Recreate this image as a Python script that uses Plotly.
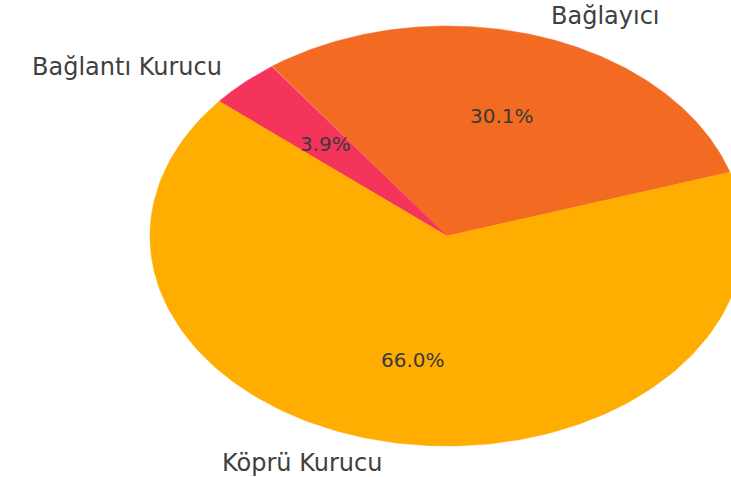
import numpy as np
import plotly.graph_objects as go

labels = ["Bağlayıcı", "Bağlantı Kurucu", "Köprü Kurucu"]
values = [30.1, 3.9, 66.0]
colors = ["#F36A22", "#F5345C", "#FFAD00"]

start_angle = 17.7
label_dist = 1.1
pct_dist = 0.6

W, H = 731, 477
cx, cy, rx, ry = 447, 236, 297, 210  # pixel placement of the pie ellipse

fig = go.Figure()
total = sum(values)
theta = start_angle
for lab, val, col in zip(labels, values, colors):
    span = 360.0 * val / total
    t = np.radians(np.linspace(theta, theta + span, 200))
    xs = np.concatenate([[0], np.cos(t), [0]])
    ys = np.concatenate([[0], np.sin(t), [0]])
    fig.add_trace(go.Scatter(x=xs, y=ys, mode="lines", fill="toself",
                             fillcolor=col, line=dict(width=0.5, color=col),
                             hoverinfo="skip", showlegend=False))
    mid = np.radians(theta + span / 2)
    lx, ly = label_dist * np.cos(mid), label_dist * np.sin(mid)
    fig.add_annotation(x=lx, y=ly, text=lab, showarrow=False,
                       xanchor="left" if lx > 0 else "right", yanchor="middle",
                       font=dict(family="DejaVu Sans", size=24, color="#404040"))
    px, py = pct_dist * np.cos(mid), pct_dist * np.sin(mid)
    fig.add_annotation(x=px, y=py, text=f"{val:.1f}%", showarrow=False,
                       xanchor="center", yanchor="middle",
                       font=dict(family="DejaVu Sans", size=20, color="#3a3a3a"))
    theta += span

fig.update_layout(
    width=W, height=H,
    margin=dict(l=0, r=0, t=0, b=0),
    paper_bgcolor="white", plot_bgcolor="white",
    xaxis=dict(range=[-cx / rx, (W - cx) / rx], visible=False, fixedrange=True),
    yaxis=dict(range=[(cy - H) / ry, cy / ry], visible=False, fixedrange=True),
)
fig.write_html("out.html", config={"displayModeBar": False},
               post_script="document.body.style.margin='0';document.body.style.overflow='hidden';")
